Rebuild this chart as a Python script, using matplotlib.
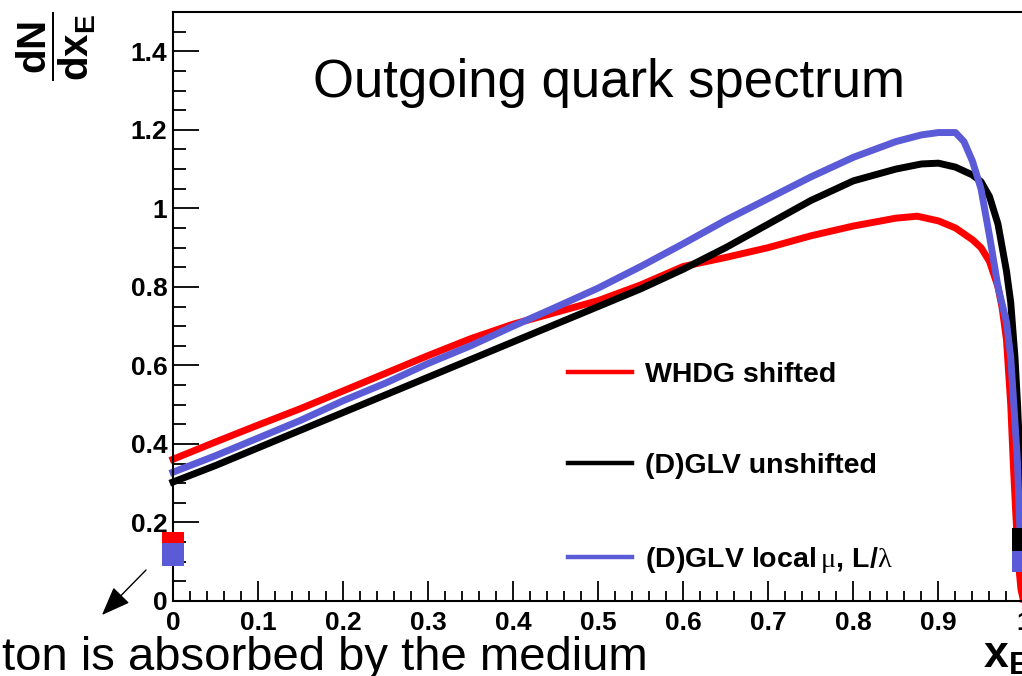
import matplotlib
matplotlib.use("Agg")
import matplotlib.pyplot as plt
from matplotlib.ticker import MultipleLocator, FixedLocator

# x_E sample points and the three spectra
x_whdg = [0.0, 0.05, 0.1, 0.15, 0.2, 0.25, 0.3, 0.35, 0.4, 0.45, 0.5, 0.55, 0.6,
          0.65, 0.7, 0.75, 0.8, 0.85, 0.875, 0.9, 0.92, 0.94, 0.95, 0.96, 0.97,
          0.975, 0.98, 0.985, 0.988, 0.991, 0.994, 0.997, 1.0]
y_whdg = [0.361, 0.405, 0.448, 0.49, 0.535, 0.58, 0.625, 0.668, 0.705, 0.735, 0.765,
          0.805, 0.852, 0.875, 0.9, 0.93, 0.955, 0.975, 0.98, 0.968, 0.95, 0.92,
          0.9, 0.865, 0.8, 0.745, 0.665, 0.5, 0.35, 0.22, 0.1, 0.03, 0.0]

x_glv = [0.0, 0.05, 0.1, 0.15, 0.2, 0.25, 0.3, 0.35, 0.4, 0.45, 0.5, 0.55, 0.6,
         0.65, 0.7, 0.75, 0.8, 0.85, 0.88, 0.9, 0.92, 0.94, 0.95, 0.96, 0.97,
         0.975, 0.98, 0.985, 0.99, 0.993, 0.996, 0.999, 1.0]
y_glv = [0.303, 0.345, 0.39, 0.435, 0.48, 0.525, 0.57, 0.615, 0.66, 0.705, 0.75,
         0.795, 0.845, 0.9, 0.96, 1.02, 1.07, 1.1, 1.113, 1.115, 1.105, 1.085,
         1.068, 1.03, 0.96, 0.9, 0.84, 0.76, 0.62, 0.5, 0.35, 0.22, 0.19]

x_local = [0.0, 0.05, 0.1, 0.15, 0.2, 0.25, 0.3, 0.35, 0.4, 0.45, 0.5, 0.55, 0.6,
           0.65, 0.7, 0.75, 0.8, 0.85, 0.88, 0.9, 0.92, 0.93, 0.94, 0.95, 0.96,
           0.97, 0.98, 0.985, 0.988, 0.991, 0.993, 0.995, 0.997, 1.0]
y_local = [0.328, 0.37, 0.415, 0.46, 0.51, 0.555, 0.605, 0.65, 0.7, 0.748, 0.797,
           0.852, 0.91, 0.97, 1.025, 1.08, 1.13, 1.17, 1.187, 1.193, 1.193, 1.17,
           1.12, 1.05, 0.93, 0.8, 0.71, 0.62, 0.52, 0.42, 0.35, 0.22, 0.13, 0.10]

labels = ["WHDG shifted", "(D)GLV unshifted", r"(D)GLV local$\,\mathrm{\mu}$, L/$\mathrm{\lambda}$"]
colors = ["#ff0000", "#000000", "#5b5bd8"]

# absorbed / unmodified parton markers at the x_E edges
edge_x = [0.0, 0.0, 1.0, 1.0]
edge_lo = [0.148, 0.089, 0.127, 0.074]
edge_hi = [0.176, 0.148, 0.186, 0.127]
edge_colors = ["#ff0000", "#5b5bd8", "#000000", "#5b5bd8"]

x_ticks = [0.0, 0.1, 0.2, 0.3, 0.4, 0.5, 0.6, 0.7, 0.8, 0.9, 1.0]
x_ticklabels = ["0", "0.1", "0.2", "0.3", "0.4", "0.5", "0.6", "0.7", "0.8", "0.9", "1"]
y_ticks = [0.0, 0.2, 0.4, 0.6, 0.8, 1.0, 1.2, 1.4]
y_ticklabels = ["0", "0.2", "0.4", "0.6", "0.8", "1", "1.2", "1.4"]

W, H = 1022, 676


def main():
    plt.rcParams["font.family"] = ["Liberation Sans", "DejaVu Sans"]
    plt.rcParams["mathtext.fontset"] = "custom"
    plt.rcParams["mathtext.rm"] = "Liberation Serif"
    plt.rcParams["mathtext.bf"] = "Liberation Sans:bold"

    fig = plt.figure(figsize=(W / 100, H / 100), dpi=100)
    ax = fig.add_axes([173 / W, 1 - 601 / H, (1023.5 - 173) / W, (601 - 12) / H])

    for xs, ys, lab, c in zip([x_whdg, x_glv, x_local], [y_whdg, y_glv, y_local], labels, colors):
        ax.plot(xs, ys, color=c, lw=5, label=lab, solid_joinstyle="round", clip_on=False)

    heights = [hi - lo for lo, hi in zip(edge_lo, edge_hi)]
    ax.bar(edge_x, heights, bottom=edge_lo, width=0.026, color=edge_colors, clip_on=False, zorder=4)

    ax.set_xlim(0, 1)
    ax.set_ylim(0, 1.5)
    ax.xaxis.set_major_locator(FixedLocator(x_ticks))
    ax.set_xticklabels(x_ticklabels)
    ax.yaxis.set_major_locator(FixedLocator(y_ticks))
    ax.set_yticklabels(y_ticklabels)
    ax.xaxis.set_minor_locator(MultipleLocator(0.02))
    ax.yaxis.set_minor_locator(MultipleLocator(0.05))
    ax.tick_params(which="both", direction="in", top=False, right=False, width=1.3)
    ax.tick_params(axis="x", which="major", length=14.5, pad=7)
    ax.tick_params(axis="x", which="minor", length=7.2)
    ax.tick_params(axis="y", which="major", length=19, pad=4)
    ax.tick_params(axis="y", which="minor", length=9.5)
    for lab in ax.get_xticklabels() + ax.get_yticklabels():
        lab.set_fontsize(19)
        lab.set_fontweight("bold")
    for s in ax.spines.values():
        s.set_linewidth(1.5)

    leg = ax.legend(loc="upper left", bbox_to_anchor=(0.464, 0.406), frameon=False,
                    prop={"size": 20.5, "weight": "bold"}, handlelength=2.25,
                    handletextpad=0.45, labelspacing=2.3, borderpad=0, borderaxespad=0)
    for ln in leg.get_lines():
        ln.set_linewidth(3.2)

    fig.text(609 / W, 1 - 83 / H, "Outgoing quark spectrum", fontsize=38,
             ha="center", va="center")
    fig.text(2 / W, 1 - 670 / H, "ton is absorbed by the medium", fontsize=34,
             ha="left", va="baseline")
    fig.text(56 / W, 1 - 46 / H, r"$\mathbf{\dfrac{dN}{dx_{E}}}$", fontsize=29,
             rotation=90, ha="center", va="center")
    fig.text(983 / W, 1 - 668 / H, r"$\mathbf{x_{E}}$", fontsize=32,
             ha="left", va="baseline")

    ax.annotate("", xy=(100 / W, 1 - 617 / H), xytext=(148 / W, 1 - 568 / H),
                xycoords="figure fraction", textcoords="figure fraction",
                arrowprops=dict(arrowstyle="-|>,head_length=0.9,head_width=0.35",
                                color="black", lw=1, mutation_scale=20))

    fig.savefig("out.png", dpi=100, facecolor="white")
    plt.close(fig)


if __name__ == "__main__":
    main()
